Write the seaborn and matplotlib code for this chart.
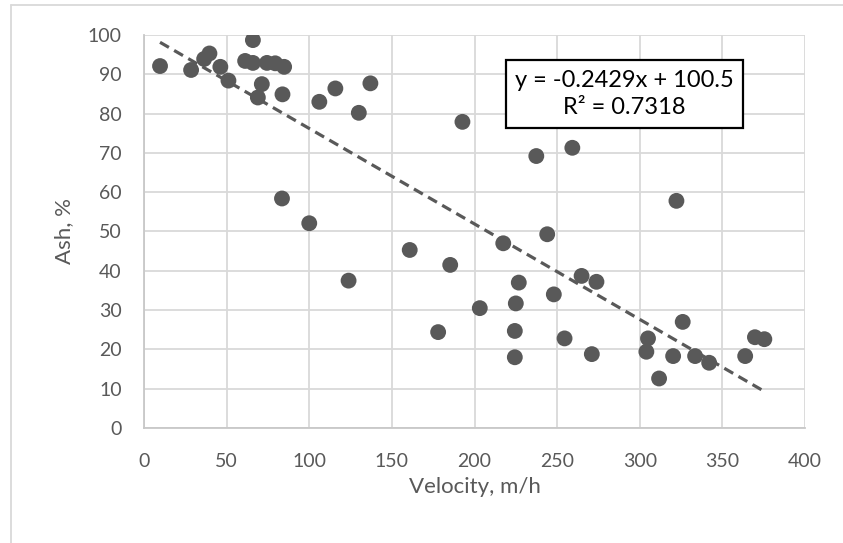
import matplotlib
matplotlib.use("Agg")
import matplotlib.pyplot as plt
from matplotlib.lines import Line2D
import seaborn as sns
import numpy as np
import pandas as pd

# ---- data ----
velocity = [9.7, 28.5, 39.6, 36.4, 46.2, 51.1, 65.9, 61.2, 65.9, 74.4,
            79.4, 84.8, 71.3, 68.9, 83.8, 83.5, 100.0, 106.1, 115.8, 130.0,
            137.0, 123.8, 160.8, 178.0, 185.3, 192.7, 203.2, 217.4, 224.4, 224.4,
            225.0, 226.8, 237.4, 244.0, 248.0, 254.5, 259.2, 264.8, 271.0, 273.8,
            304.0, 305.0, 311.7, 320.2, 322.2, 326.0, 333.5, 342.0, 363.8, 369.7,
            375.4]
ash = [92.1, 91.1, 95.3, 93.9, 91.9, 88.4, 98.7, 93.4, 92.9, 92.9,
       92.8, 91.9, 87.5, 84.1, 84.9, 58.4, 52.1, 83.0, 86.4, 80.2,
       87.7, 37.5, 45.3, 24.4, 41.5, 77.9, 30.5, 47.0, 24.7, 18.0,
       31.7, 37.0, 69.2, 49.3, 34.0, 22.8, 71.3, 38.7, 18.8, 37.2,
       19.4, 22.8, 12.6, 18.3, 57.8, 27.0, 18.3, 16.6, 18.3, 23.1,
       22.6]
slope = -0.2429
intercept = 100.5
r_squared = 0.7318
x_ticks = [0, 50, 100, 150, 200, 250, 300, 350, 400]
y_ticks = [0, 10, 20, 30, 40, 50, 60, 70, 80, 90, 100]
x_label = "Velocity, m/h"
y_label = "Ash, %"

df = pd.DataFrame({"Velocity": velocity, "Ash": ash})

sns.set_theme(style="white")
plt.rcParams["font.family"] = ["Lato", "DejaVu Sans"]

W, H, DPI = 843, 543, 100
fig = plt.figure(figsize=(W / DPI, H / DPI), dpi=DPI)
left, right, top, bottom = 144, 805, 35, 428
ax = fig.add_axes([left / W, 1 - bottom / H, (right - left) / W, (bottom - top) / H])

grid_c = "#d9d9d9"
txt_c = "#595959"
mark_c = "#595959"

ax.set_xlim(0, 400)
ax.set_ylim(0, 100)
ax.set_xticks(x_ticks)
ax.set_yticks(y_ticks)
ax.grid(True, color=grid_c, linewidth=1.3)
ax.set_axisbelow(True)
for s in ax.spines.values():
    s.set_visible(False)
ax.spines["left"].set_visible(True)
ax.spines["bottom"].set_visible(True)
ax.spines["left"].set_color("#c8c8c8")
ax.spines["bottom"].set_color("#c8c8c8")
ax.spines["left"].set_linewidth(1.3)
ax.spines["bottom"].set_linewidth(1.3)

sns.scatterplot(data=df, x="Velocity", y="Ash", ax=ax, s=130, color=mark_c,
                edgecolor="none", linewidth=0, zorder=3, legend=False)

xs = np.array([min(velocity), max(velocity)])
ax.plot(xs, slope * xs + intercept, color=mark_c, linewidth=2.3,
        linestyle=(0, (3.2, 1.9)), zorder=4)

ax.tick_params(axis="both", length=0, labelsize=14, labelcolor=txt_c)
ax.tick_params(axis="x", pad=18)
ax.tick_params(axis="y", pad=16)
ax.set_xlabel(x_label, fontsize=16, color=txt_c, labelpad=5)
ax.set_ylabel(y_label, fontsize=16, color=txt_c, labelpad=10)

eq = f"y = {slope:.4f}x + {intercept}\nR² = {r_squared}"
ax.text(290.8, 85.0, eq, ha="center", va="center", fontsize=17,
        color="black", linespacing=1.4, zorder=5,
        bbox=dict(boxstyle="square,pad=0.4", fc="white", ec="black", lw=1.6))

# outer chart border (cropped Excel chart area)
fig.add_artist(Line2D([11 / W, 11 / W], [0, 1 - 5 / H], transform=fig.transFigure,
                      color=grid_c, linewidth=1.3))
fig.add_artist(Line2D([11 / W, 1], [1 - 5 / H, 1 - 5 / H], transform=fig.transFigure,
                      color=grid_c, linewidth=1.3))

fig.savefig("out.png", dpi=DPI, facecolor="white")
